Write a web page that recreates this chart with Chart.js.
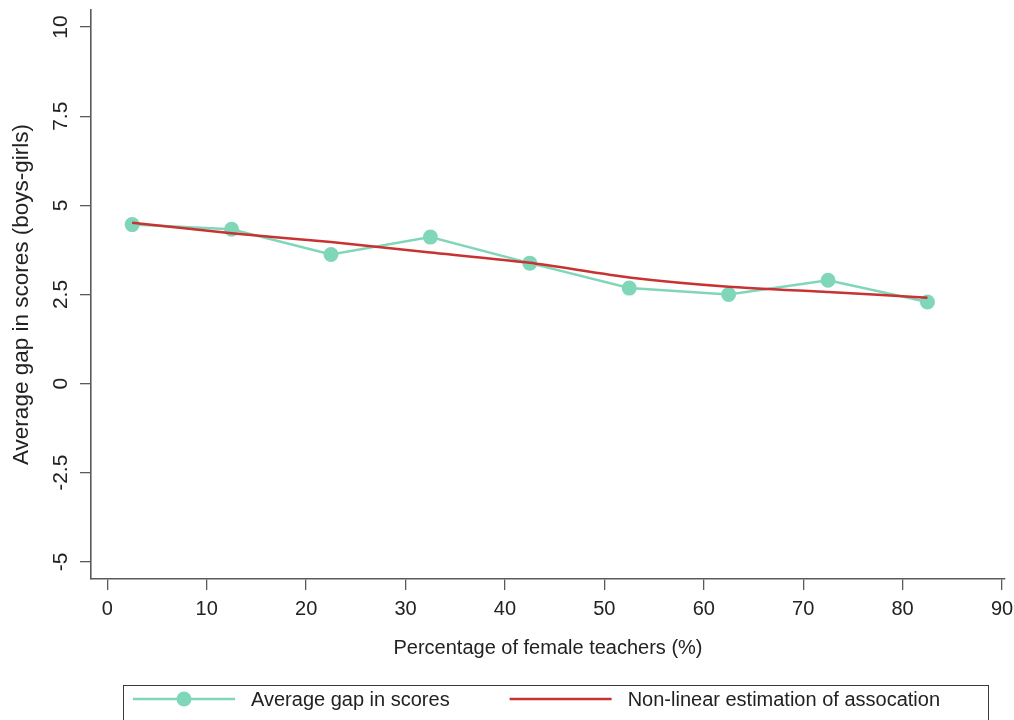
<!DOCTYPE html>
<html>
<head>
<meta charset="utf-8">
<script src="https://cdn.jsdelivr.net/npm/chart.js@4.4.1/dist/chart.umd.min.js"></script>
<style>
  html, body { margin: 0; padding: 0; background: #ffffff; }
  #wrap { width: 1014px; height: 720px; position: relative; }
</style>
</head>
<body>
<div id="wrap"><canvas id="c" width="1014" height="720"></canvas></div>
<script>
// ---- data ----
const xValues = [2.5, 12.5, 22.5, 32.5, 42.5, 52.5, 62.5, 72.5, 82.5];
const avgGap = [4.46, 4.33, 3.62, 4.11, 3.38, 2.68, 2.50, 2.90, 2.29];
const nonLinear = [4.51, 4.22, 3.97, 3.68, 3.39, 2.98, 2.72, 2.57, 2.41];
const xTickValues = [0, 10, 20, 30, 40, 50, 60, 70, 80, 90];
const yTickValues = [-5, -2.5, 0, 2.5, 5, 7.5, 10];
const yTickLabels = ["-5", "-2.5", "0", "2.5", "5", "7.5", "10"];
const seriesLabels = ["Average gap in scores", "Non-linear estimation of assocation"];
const xTitle = "Percentage of female teachers (%)";
const yTitle = "Average gap in scores (boys-girls)";

const FONT = "'Liberation Sans', Arial, Helvetica, sans-serif";
const GREEN = "#80d6b9";
const RED = "#c83232";
const AXIS = "#5a5a5a";

function pts(ys) { return xValues.map((x, i) => ({ x: x, y: ys[i] })); }

const boxLegend = {
  id: 'boxLegend',
  afterDraw(chart) {
    const ctx = chart.ctx;
    ctx.save();
    ctx.strokeStyle = "#3a3a3a";
    ctx.lineWidth = 1;
    ctx.strokeRect(123.5, 685.5, 865, 60);
    ctx.font = "20px " + FONT;
    ctx.textBaseline = "middle";
    const order = [1, 0]; // green first, red second
    let sx = 133;
    const y = 699;
    order.forEach((di) => {
      const ds = chart.data.datasets[di];
      ctx.strokeStyle = ds.borderColor;
      ctx.lineWidth = ds.borderWidth;
      ctx.beginPath();
      ctx.moveTo(sx, y);
      ctx.lineTo(sx + 102, y);
      ctx.stroke();
      if (ds.pointRadius > 0) {
        ctx.fillStyle = ds.pointBackgroundColor;
        ctx.beginPath();
        ctx.arc(sx + 51, y, ds.pointRadius, 0, Math.PI * 2);
        ctx.fill();
      }
      ctx.fillStyle = "#222";
      const tx = sx + 102 + 16;
      ctx.fillText(ds.label, tx, y + 1);
      sx = tx + ctx.measureText(ds.label).width + 60;
    });
    ctx.restore();
  }
};

new Chart(document.getElementById('c'), {
  type: 'line',
  data: {
    datasets: [
      {
        label: seriesLabels[1],
        data: pts(nonLinear),
        borderColor: RED,
        borderWidth: 2.5,
        pointRadius: 0,
        tension: 0.2,
        fill: false,
        order: 0
      },
      {
        label: seriesLabels[0],
        data: pts(avgGap),
        borderColor: GREEN,
        borderWidth: 2.5,
        pointRadius: 7.5,
        pointBackgroundColor: GREEN,
        pointBorderWidth: 0,
        tension: 0,
        fill: false,
        order: 1
      }
    ]
  },
  options: {
    responsive: false,
    animation: false,
    layout: { padding: { top: 10, right: 9, left: 0, bottom: 60 } },
    plugins: {
      legend: { display: false },
      tooltip: { enabled: false }
    },
    scales: {
      x: {
        type: 'linear',
        min: -1.64,
        max: 90.3,
        afterBuildTicks: (s) => { s.ticks = xTickValues.map(v => ({ value: v })); },
        afterFit: (s) => { s.height = 81; s.paddingLeft = 0; s.paddingRight = 0; },
        grid: { drawOnChartArea: false, drawTicks: true, tickLength: 11, color: AXIS, lineWidth: 1.3 },
        border: { display: true, color: AXIS, width: 1.6 },
        ticks: {
          padding: 7,
          color: "#222",
          font: { family: FONT, size: 20 },
          maxRotation: 0,
          minRotation: 0,
          callback: (v) => String(v)
        },
        title: {
          display: true,
          text: xTitle,
          color: "#222",
          font: { family: FONT, size: 20 },
          padding: { top: 0, bottom: 0 }
        }
      },
      y: {
        type: 'linear',
        min: -5.48,
        max: 10.48,
        afterBuildTicks: (s) => { s.ticks = yTickValues.map(v => ({ value: v })); },
        afterFit: (s) => { s.width = 91; s.paddingTop = 0; s.paddingBottom = 0; },
        grid: { drawOnChartArea: false, drawTicks: true, tickLength: 11, color: AXIS, lineWidth: 1.3 },
        border: { display: true, color: AXIS, width: 1.6 },
        ticks: {
          padding: 1,
          color: "#222",
          crossAlign: 'center',
          minRotation: 90,
          maxRotation: 90,
          font: { family: FONT, size: 21 },
          callback: (v) => { const i = yTickValues.indexOf(v); return i >= 0 ? yTickLabels[i] : ''; }
        },
        title: {
          display: true,
          text: yTitle,
          color: "#222",
          font: { family: FONT, size: 22.5 },
          padding: { top: 8, bottom: 0 }
        }
      }
    }
  },
  plugins: [boxLegend]
});
</script>
</body>
</html>
